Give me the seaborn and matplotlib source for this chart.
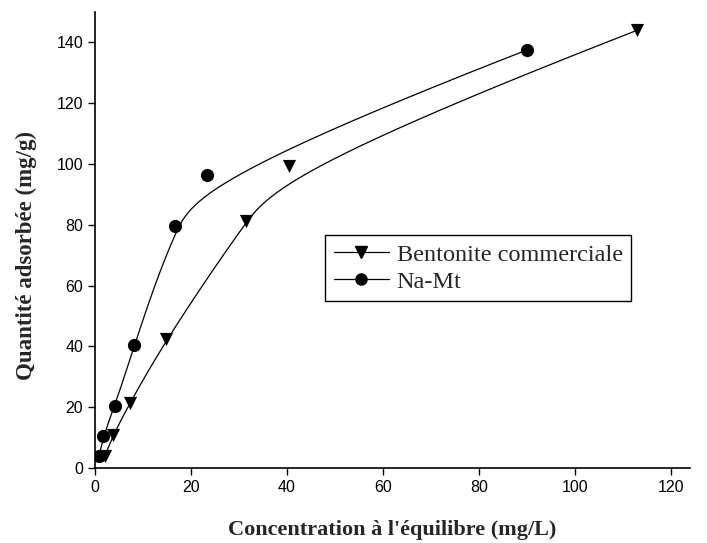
import numpy as np
import pandas as pd
import matplotlib
matplotlib.use("Agg")
import matplotlib.pyplot as plt
from matplotlib.lines import Line2D
import seaborn as sns

# ---- data ----
bento_x = [2.1, 3.8, 7.3, 14.8, 31.4, 40.4, 113.0]
bento_y = [4.1, 11.0, 21.5, 42.3, 81.3, 99.3, 144.0]
namt_x = [0.9, 1.7, 4.2, 8.2, 16.6, 23.3, 90.0]
namt_y = [4.0, 10.6, 20.4, 40.5, 79.6, 96.4, 137.5]
labels = ["Bentonite commerciale", "Na-Mt"]
x_ticks = [0, 20, 40, 60, 80, 100, 120]
y_ticks = [0, 20, 40, 60, 80, 100, 120, 140]


def bspline(xs, ys, k=3, num=400):
    """Clamped uniform B-spline using the data points as control points."""
    P = np.column_stack([xs, ys]).astype(float)
    n = len(P)
    t = np.concatenate([np.zeros(k + 1), np.arange(1, n - k), np.full(k + 1, n - k)]).astype(float)
    u = np.linspace(0, n - k, num)
    u[-1] -= 1e-9
    B = np.zeros((num, len(t) - 1))
    for i in range(len(t) - 1):
        B[:, i] = (t[i] <= u) & (u < t[i + 1])
    for p in range(1, k + 1):
        Bn = np.zeros((num, len(t) - 1 - p))
        for i in range(len(t) - 1 - p):
            d1 = t[i + p] - t[i]
            d2 = t[i + p + 1] - t[i + 1]
            a = (u - t[i]) / d1 * B[:, i] if d1 > 0 else 0
            b = (t[i + p + 1] - u) / d2 * B[:, i + 1] if d2 > 0 else 0
            Bn[:, i] = a + b
        B = Bn
    C = B @ P
    return C[:, 0], C[:, 1]


sns.set_style("ticks")
plt.rcParams["font.family"] = ["Liberation Sans", "DejaVu Sans"]

fig = plt.figure(figsize=(7.07, 5.43), dpi=100)
ax = fig.add_axes([95 / 707, 1 - 468 / 543, (690 - 95) / 707, (468 - 12) / 543])

series = [(bento_x, bento_y, "v", labels[0]), (namt_x, namt_y, "o", labels[1])]
handles = []
for xs, ys, mk, lab in series:
    cx, cy = bspline(xs, ys)
    curve = pd.DataFrame({"x": cx, "y": cy})
    sns.lineplot(data=curve, x="x", y="y", sort=False, color="black", lw=0.9, ax=ax,
                 estimator=None)
    pts = pd.DataFrame({"x": xs, "y": ys})
    sns.scatterplot(data=pts, x="x", y="y", marker=mk, color="black", s=90,
                    edgecolor="black", linewidth=0, ax=ax, zorder=3)
    handles.append(Line2D([], [], color="black", lw=0.9, marker=mk, markersize=8))

ax.set_xlim(0, 124)
ax.set_ylim(0, 150)
ax.set_xticks(x_ticks)
ax.set_yticks(y_ticks)
ax.tick_params(direction="out", length=5, width=1, labelsize=11.5, colors="black")
for s in ["top", "right"]:
    ax.spines[s].set_visible(False)
for s in ["left", "bottom"]:
    ax.spines[s].set_linewidth(1.2)
    ax.spines[s].set_color("black")

ax.set_xlabel("Concentration à l'équilibre (mg/L)", fontfamily="Liberation Serif",
              fontweight="bold", fontsize=16, labelpad=18)
ax.set_ylabel("Quantité adsorbée (mg/g)", fontfamily="Liberation Serif",
              fontweight="bold", fontsize=16.5)
ax.yaxis.set_label_coords(-0.097, (468 - 255) / 456)

leg = ax.legend(handles, labels, loc="upper left",
                bbox_to_anchor=(325 / 707, 1 - 235 / 543), bbox_transform=fig.transFigure,
                frameon=True, fancybox=False, edgecolor="black", framealpha=1,
                prop={"family": "Liberation Serif", "size": 17.5},
                handlelength=2.3, handletextpad=0.3, borderpad=0.35, labelspacing=0.22,
                borderaxespad=0)
leg.get_frame().set_linewidth(1.0)

fig.savefig("out.png", dpi=100)
